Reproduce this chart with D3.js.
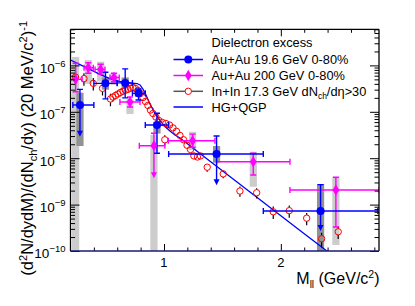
<!DOCTYPE html>
<html>
<head>
<meta charset="utf-8">
<script src="https://cdn.jsdelivr.net/npm/d3@7/dist/d3.min.js"></script>
<style>
  body { margin: 0; background: #fff; }
  text { font-family: "Liberation Sans", Arial, Helvetica, sans-serif; }
</style>
</head>
<body>
<div id="chart"></div>
<script>
// ---- values ----

// axis ticks
var xMajor = [1, 2];
var xMinor = [0.4, 0.6, 0.8, 1.2, 1.4, 1.6, 1.8, 2.2, 2.4, 2.6, 2.8];
var yMajor = [1e-10, 1e-9, 1e-8, 1e-7, 1e-6];
var yExpLabels = ["\u221210", "\u22129", "\u22128", "\u22127", "\u22126"];

// Au+Au 19.6 GeV 0-80% (blue)
var blueM     = [0.281, 0.499, 0.668, 0.782, 0.940, 1.450, 2.340];
var blueY     = [1.4e-7, 4.1e-7, 4.2e-7, 2.5e-7, 5.2e-8, 1.23e-8, 7.3e-10];
var blueYhi   = [3.05e-7, 7.1e-7, 8.4e-7, 3.1e-7, 9.3e-8, 3.0e-8, 2.7e-9];
var blueYlo   = [2.9e-8, 1.9e-7, 2.0e-7, 1.8e-7, 1.28e-8, 2.6e-9, 2.7e-10];
var blueLimit = [true, false, false, false, false, true, true];
var blueXlo   = [0.22, 0.40, 0.60, 0.73, 0.84, 1.04, 1.85];
var blueXhi   = [0.40, 0.60, 0.73, 0.84, 1.04, 1.85, 2.83];
var blueSysLo = [1.83e-8, 3.0e-7, 3.2e-7, 2.1e-7, 3.4e-8, 8.0e-9, 1e-11];
var blueSysHi = [2.58e-7, 5.5e-7, 5.5e-7, 3.0e-7, 6.1e-8, 1.83e-8, 2.78e-9];

// Au+Au 200 GeV 0-80% (magenta)
var magM     = [0.244, 0.352, 0.458, 0.572, 0.709, 0.914, 1.245, 1.764, 2.471];
var magY     = [5.0e-7, 8.9e-7, 8.2e-7, 5.5e-7, 1.63e-7, 1.86e-8, 2.38e-8, 8.4e-9, 2.07e-9];
var magYhi   = [1.11e-6, 1.14e-6, 1.06e-6, 6.8e-7, 2.08e-7, 3.44e-8, 3.3e-8, 1.28e-8, 3.9e-9];
var magYlo   = [2.71e-7, 6.8e-7, 6.5e-7, 4.45e-7, 1.27e-7, 3.7e-9, 1.72e-8, 4.35e-9, 3.3e-10];
var magLimit = [false, false, false, false, false, true, false, false, false];
var magXlo   = [0.2, 0.316, 0.41, 0.538, 0.623, 0.789, 1.037, 1.45, 2.078];
var magXhi   = [0.30, 0.395, 0.495, 0.617, 0.795, 1.008, 1.436, 2.078, 2.84];
var magSysLo = [1e-11, 4e-7, 4.5e-7, 3.8e-7, 9e-8, 1e-11, 1.5e-8, 2.43e-9, 1.35e-10];
var magSysHi = [1.52e-6, 1.3e-6, 1.2e-6, 6.8e-7, 1.86e-7, 3.2e-8, 3.7e-8, 1.38e-8, 3.9e-9];

// In+In 17.3 GeV (NA60, red open circles) with relative stat. errors
var inM = [0.243, 0.315, 0.395, 0.474, 0.542, 0.563, 0.585, 0.606, 0.627, 0.649,
           0.670, 0.692, 0.713, 0.734, 0.756, 0.777, 0.798, 0.820, 0.841, 0.862,
           0.884, 0.905, 0.931, 0.956, 0.986, 1.007, 1.016, 1.047, 1.077, 1.107,
           1.137, 1.167, 1.197, 1.227, 1.256, 1.286, 1.312, 1.370, 1.507, 1.650,
           1.793, 1.935, 2.072, 2.221, 2.349, 2.491];
var inY = [5.6e-7, 5.2e-7, 4.1e-7, 3.2e-7, 1.89e-7, 2.08e-7, 2.25e-7, 2.42e-7, 2.61e-7, 2.77e-7,
           2.91e-7, 3.05e-7, 3.21e-7, 3.34e-7, 3.18e-7, 2.88e-7, 2.48e-7, 2.03e-7, 1.67e-7, 1.37e-7,
           1.09e-7, 9.2e-8, 7.7e-8, 6.5e-8, 5.9e-8, 2.5e-8, 5.6e-8, 5.2e-8, 4.5e-8, 3.8e-8,
           3.1e-8, 2.5e-8, 1.9e-8, 1.54e-8, 1.12e-8, 1.06e-8, 1.12e-8, 6.4e-9, 4.6e-9, 1.96e-9,
           1.8e-9, 7.0e-10, 7.4e-10, 5.1e-10, 1.84e-10, 2.6e-10];
var inErr = [0.35, 0.3, 0.3, 0.3, 0.3, 0.2, 0.15, 0.12, 0.1, 0.08,
             0.07, 0.06, 0.06, 0.05, 0.05, 0.05, 0.05, 0.05, 0.05, 0.05,
             0.06, 0.06, 0.07, 0.07, 0.08, 0.25, 0.08, 0.08, 0.08, 0.1,
             0.1, 0.1, 0.12, 0.12, 0.15, 0.15, 0.15, 0.2, 0.2, 0.25,
             0.25, 0.3, 0.3, 0.3, 0.35, 0.3];

// HG+QGP model curve
var modelM = [0.2, 0.281, 0.367, 0.452, 0.538, 0.624, 0.709, 0.769, 0.795, 0.820, 0.846,
              0.880, 0.923, 0.966, 1.008, 1.051, 1.094, 1.137, 1.308, 1.736, 2.164, 2.394, 2.45];
var modelY = [1.31e-6, 1.04e-6, 8.2e-7, 6.4e-7, 5.2e-7, 4.5e-7, 4.18e-7, 4.07e-7, 3.79e-7, 3.1e-7, 2.3e-7,
              1.47e-7, 9.2e-8, 6.5e-8, 4.8e-8, 3.85e-8, 3.16e-8, 2.72e-8, 1.26e-8, 1.87e-9, 2.77e-10, 1.0e-10, 8e-11];

var legendLabels = ["Au+Au 19.6 GeV 0-80%", "Au+Au 200 GeV 0-80%", "In+In 17.3 GeV", "HG+QGP"];

// ---- layout ----
var dimensions = {
    width: 308.5,
    height: 221.7,
    margin: { top: 29.3, left: 70.5 }
}
var blue = "#0000ff", magenta = "#ff00ff", red = "#ff0000";

var svg = d3.select("#chart")
    .append("svg")
    .attr("width", 415)
    .attr("height", 306);

svg.append("defs").append("clipPath").attr("id", "clip")
    .append("rect")
    .attr("width", dimensions.width)
    .attr("height", dimensions.height);

var g = svg.append("g")
    .attr("transform", "translate(" + dimensions.margin.left + "," + dimensions.margin.top + ")");

var x = d3.scaleLinear().domain([0.2, 2.84]).range([0, dimensions.width]);
var y = d3.scaleLog().domain([1e-10, 6e-6]).range([dimensions.height, 0]);

var plot = g.append("g").attr("clip-path", "url(#clip)");

// systematic boxes
function boxes(M, lo, hi, fill) {
    plot.append("g").selectAll("rect")
        .data(M.map(function (m, i) { return { m: m, lo: lo[i], hi: hi[i] }; }))
        .enter().append("rect")
        .attr("x", function (d) { return x(d.m) - 3.6; })
        .attr("width", 7.2)
        .attr("y", function (d) { return y(d.hi); })
        .attr("height", function (d) { return y(d.lo) - y(d.hi); })
        .attr("fill", fill);
}
boxes(magM, magSysLo, magSysHi, "#cccccc");
boxes(blueM, blueSysLo, blueSysHi, "#929292");

// model curve
plot.append("path")
    .datum(modelM.map(function (m, i) { return [m, modelY[i]]; }))
    .attr("fill", "none")
    .attr("stroke", blue)
    .attr("stroke-width", 1.3)
    .attr("d", d3.line().x(function (d) { return x(d[0]); }).y(function (d) { return y(d[1]); }));

// NA60 points with black error bars
var inPts = inM.map(function (m, i) { return { m: m, v: inY[i], e: inErr[i] }; });
var rr = 3.2;
inPts.forEach(function (d) {
    var cx = x(d.m), cy = y(d.v);
    var t = y(d.v * (1 + d.e)), b = y(d.v * (1 - d.e));
    if (cy - rr - t > 0.5)
        plot.append("line").attr("x1", cx).attr("x2", cx).attr("y1", t).attr("y2", cy - rr)
            .attr("stroke", "#000").attr("stroke-width", 1.2);
    if (b - cy - rr > 0.5)
        plot.append("line").attr("x1", cx).attr("x2", cx).attr("y1", cy + rr).attr("y2", b)
            .attr("stroke", "#000").attr("stroke-width", 1.2);
});
plot.append("g").selectAll("circle")
    .data(inPts).enter().append("circle")
    .attr("cx", function (d) { return x(d.m); })
    .attr("cy", function (d) { return y(d.v); })
    .attr("r", rr)
    .attr("fill", "none")
    .attr("stroke", red)
    .attr("stroke-width", 1);

// error bars with caps and arrows for upper limits
function errorBars(M, Y, Yhi, Ylo, Xlo, Xhi, lim, color) {
    var layer = plot.append("g").attr("stroke", color).attr("stroke-width", 1.4);
    M.forEach(function (m, i) {
        var cx = x(m), cy = y(Y[i]);
        var x0 = x(Xlo[i]), x1 = x(Xhi[i]);
        var yt = y(Yhi[i]), yb = y(Ylo[i]);
        layer.append("line").attr("x1", x0).attr("x2", x1).attr("y1", cy).attr("y2", cy);
        layer.append("line").attr("x1", x0).attr("x2", x0).attr("y1", cy - 3).attr("y2", cy + 3);
        layer.append("line").attr("x1", x1).attr("x2", x1).attr("y1", cy - 3).attr("y2", cy + 3);
        layer.append("line").attr("x1", cx).attr("x2", cx).attr("y1", yt).attr("y2", lim[i] ? yb - 5 : yb);
        layer.append("line").attr("x1", cx - 3).attr("x2", cx + 3).attr("y1", yt).attr("y2", yt);
        if (lim[i]) {
            layer.append("path")
                .attr("d", "M" + (cx - 3) + "," + (yb - 6) + "L" + (cx + 3) + "," + (yb - 6) + "L" + cx + "," + yb + "Z")
                .attr("fill", color).attr("stroke", "none");
        } else {
            layer.append("line").attr("x1", cx - 3).attr("x2", cx + 3).attr("y1", yb).attr("y2", yb);
        }
    });
}
errorBars(magM, magY, magYhi, magYlo, magXlo, magXhi, magLimit, magenta);
errorBars(blueM, blueY, blueYhi, blueYlo, blueXlo, blueXhi, blueLimit, blue);

var diamond = d3.symbol().type(d3.symbolDiamond).size(38);
plot.append("g").selectAll("path")
    .data(magM.map(function (m, i) { return [m, magY[i]]; }))
    .enter().append("path")
    .attr("d", diamond)
    .attr("transform", function (d) { return "translate(" + x(d[0]) + "," + y(d[1]) + ")"; })
    .attr("fill", magenta);

plot.append("g").selectAll("circle")
    .data(blueM.map(function (m, i) { return [m, blueY[i]]; }))
    .enter().append("circle")
    .attr("cx", function (d) { return x(d[0]); })
    .attr("cy", function (d) { return y(d[1]); })
    .attr("r", 4)
    .attr("fill", blue);

// ---- frame and ticks ----
var yMinor = [];
for (var e = -10; e <= -6; e++) {
    for (var k = 2; k <= 9; k++) {
        var v = k * Math.pow(10, e);
        if (v <= 6e-6) yMinor.push(v);
    }
}

function tickGroup(axis, tx, ty) {
    g.append("g")
        .attr("transform", "translate(" + tx + "," + ty + ")")
        .call(axis)
        .call(function (s) { s.select(".domain").remove(); })
        .selectAll("line").attr("stroke", "#000").attr("stroke-width", 1);
}
tickGroup(d3.axisBottom(x).tickValues(xMajor).tickSize(-7).tickFormat(""), 0, dimensions.height);
tickGroup(d3.axisBottom(x).tickValues(xMinor).tickSize(-3.5).tickFormat(""), 0, dimensions.height);
tickGroup(d3.axisTop(x).tickValues(xMajor).tickSize(-7).tickFormat(""), 0, 0);
tickGroup(d3.axisTop(x).tickValues(xMinor).tickSize(-3.5).tickFormat(""), 0, 0);
tickGroup(d3.axisLeft(y).tickValues(yMajor).tickSize(-9).tickFormat(""), 0, 0);
tickGroup(d3.axisLeft(y).tickValues(yMinor).tickSize(-4.5).tickFormat(""), 0, 0);
tickGroup(d3.axisRight(y).tickValues(yMajor).tickSize(-9).tickFormat(""), dimensions.width, 0);
tickGroup(d3.axisRight(y).tickValues(yMinor).tickSize(-4.5).tickFormat(""), dimensions.width, 0);

g.append("line").attr("x1", 0).attr("x2", 0).attr("y1", 0).attr("y2", dimensions.height).attr("stroke", "#000").attr("stroke-width", 1.3);
g.append("line").attr("x1", dimensions.width).attr("x2", dimensions.width).attr("y1", 0).attr("y2", dimensions.height).attr("stroke", "#000").attr("stroke-width", 1.3);
g.append("line").attr("x1", 0).attr("x2", dimensions.width).attr("y1", 0).attr("y2", 0).attr("stroke", "#000").attr("stroke-width", 1.3);
g.append("line").attr("x1", 0).attr("x2", dimensions.width).attr("y1", dimensions.height).attr("y2", dimensions.height).attr("stroke", "#1a1a78").attr("stroke-width", 1.5);

// tick labels
g.append("g").selectAll("text")
    .data(xMajor).enter().append("text")
    .attr("x", function (d) { return x(d); })
    .attr("y", dimensions.height + 16.5)
    .attr("text-anchor", "middle")
    .attr("font-size", 13)
    .text(function (d) { return d; });

var yl = g.append("g").selectAll("text")
    .data(yMajor).enter().append("text")
    .attr("x", -5)
    .attr("y", function (d) { return y(d) + 7.5; })
    .attr("text-anchor", "end")
    .attr("font-size", 13.5);
yl.append("tspan").text("10");
yl.append("tspan").attr("font-size", 9.5).attr("dy", -6).text(function (d, i) { return yExpLabels[i]; });

// axis titles
var xt = svg.append("text")
    .attr("x", 379.5).attr("y", 283.5)
    .attr("text-anchor", "end")
    .attr("font-size", 16);
xt.append("tspan").text("M");
xt.append("tspan").attr("font-size", 10).attr("dy", 4).text("ll");
xt.append("tspan").attr("dy", -4).text(" (GeV/c");
xt.append("tspan").attr("font-size", 10.5).attr("dy", -6).text("2");
xt.append("tspan").attr("dy", 6).text(")");

var yt = svg.append("text")
    .attr("transform", "translate(33,21) rotate(-90)")
    .attr("text-anchor", "end")
    .attr("font-size", 16.5);
yt.append("tspan").text("(d");
yt.append("tspan").attr("font-size", 11).attr("dy", -6).text("2");
yt.append("tspan").attr("dy", 6).text("N/dydM)/(dN");
yt.append("tspan").attr("font-size", 11).attr("dy", 4).text("ch");
yt.append("tspan").attr("dy", -4).text("/dy) (20 MeV/c");
yt.append("tspan").attr("font-size", 11).attr("dy", -6).text("2");
yt.append("tspan").attr("dy", 6).text(")");
yt.append("tspan").attr("font-size", 11).attr("dy", -6).text("-1");

// ---- legend ----
var leg = svg.append("g");
var legX0 = 173.5, legX1 = 203, legMark = 188.3, legText = 211.5;
var rows = [59.5, 75.5, 91.3, 107];
leg.append("text").attr("x", legText).attr("y", 42 + 4.5).attr("font-size", 12.8).text("Dielectron excess");

var legColors = [blue, magenta, "#555555", blue];
rows.forEach(function (ry, i) {
    leg.append("line").attr("x1", legX0).attr("x2", legX1).attr("y1", ry).attr("y2", ry)
        .attr("stroke", legColors[i]).attr("stroke-width", 1.5);
});
leg.append("circle").attr("cx", legMark).attr("cy", rows[0]).attr("r", 4).attr("fill", blue);
leg.append("path").attr("d", diamond).attr("transform", "translate(" + legMark + "," + rows[1] + ")").attr("fill", magenta);
leg.append("circle").attr("cx", legMark).attr("cy", rows[2]).attr("r", 3.2).attr("fill", "#fff").attr("stroke", red);

legendLabels.forEach(function (lab, i) {
    var t = leg.append("text").attr("x", legText).attr("y", rows[i] + 4.5).attr("font-size", 12.8);
    t.append("tspan").text(lab);
    if (i === 2) {
        t.append("tspan").text(" dN");
        t.append("tspan").attr("font-size", 8.5).attr("dy", 3).text("ch");
        t.append("tspan").attr("dy", -3).text("/d\u03b7>30");
    }
});
</script>
</body>
</html>
